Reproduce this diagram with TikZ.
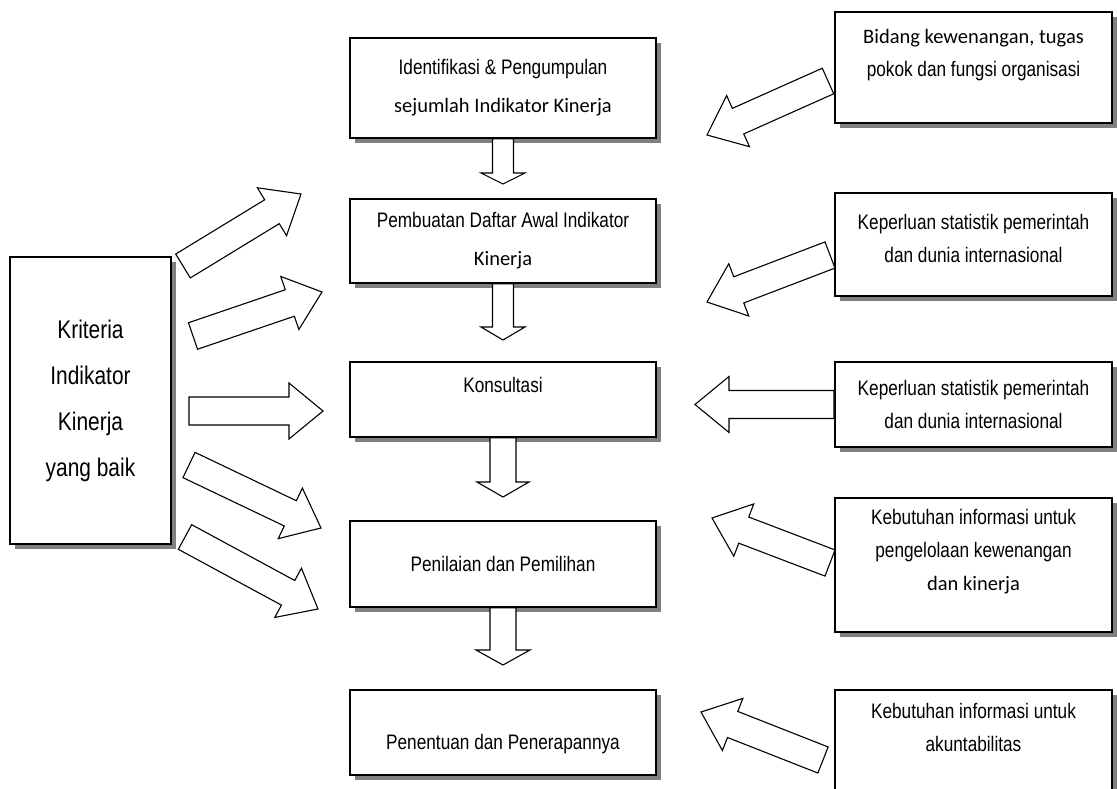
\documentclass[tikz,border=0pt]{standalone}
\usepackage{fontspec}
\setmainfont{Liberation Sans}[FakeStretch=0.82]
\newfontfamily\calibrifont{Carlito}
\usepackage{tikz}
\usetikzlibrary{calc,shadows}

% Calibri-looking line inside an Arial box
\newcommand{\calline}[1]{{\calibrifont\fontsize{20.5}{24}\selectfont #1}}

% hollow block arrow: tail, tip, half shaft, half head, head length
\newcommand{\blockarrow}[5]{%
  \draw[blk]
    ($(#1)!#3!90:(#2)$)
    -- ($(#2)!#5!(#1)!#3!-90:(#1)$)
    -- ($(#2)!#5!(#1)!#4!-90:(#1)$)
    -- (#2)
    -- ($(#2)!#5!(#1)!#4!90:(#1)$)
    -- ($(#2)!#5!(#1)!#3!90:(#1)$)
    -- ($(#1)!#3!-90:(#2)$)
    -- cycle;
}

\begin{document}
\begin{tikzpicture}[
    x=1pt, y=-1pt,
    box/.style={draw, fill=white, line width=1.5pt, align=center,
                inner sep=0pt,
                drop shadow={shadow xshift=5pt, shadow yshift=-5pt,
                             fill=black!50, opacity=1},
                font={\fontsize{21}{38}\selectfont}},
    midbox/.style={box, minimum width=306pt},
    sidebox/.style={box, minimum width=277pt,
                    font={\fontsize{21}{33}\selectfont}},
    blk/.style={draw, fill=white, line width=1.1pt, line join=miter},
  ]

  \useasboundingbox (0,0) rectangle (1117,789);

  % ══════════════════════════════════════════════
  % Layout — three columns
  %
  %   x=90   : criteria box (left)
  %   x=503  : process steps, top to bottom
  %   x=973  : inputs feeding the steps (right)
  % ══════════════════════════════════════════════

  % ── Centre column: process steps ──
  \node[midbox, minimum height=100pt] at (503, 88) (ident)
    {Identifikasi \& Pengumpulan\\\calline{sejumlah Indikator Kinerja}};
  \node[midbox, minimum height=84pt] at (503, 241) (daftar)
    {Pembuatan Daftar Awal Indikator\\\calline{Kinerja}};
  \node[midbox, minimum height=75pt, text height=13pt, text depth=27pt]
    at (503, 399.5) (konsultasi) {Konsultasi};
  \node[midbox, minimum height=86pt] at (503, 564) (penilaian)
    {Penilaian dan Pemilihan};
  \node[midbox, minimum height=85pt, text height=37pt, text depth=4pt]
    at (503, 732.5) (penentuan) {Penentuan dan Penerapannya};

  % ── Left column: criteria ──
  \node[box, minimum width=161pt, minimum height=287pt,
    font={\fontsize{25.5}{46}\selectfont}] at (90.5, 400.5) (kriteria)
    {Kriteria\\Indikator\\Kinerja\\yang baik};

  % ── Right column: inputs ──
  \node[sidebox, minimum height=111pt] at (973.5, 67.5) (bidang)
    {\calline{Bidang kewenangan, tugas}\\pokok dan fungsi organisasi\\[-4pt]};
  \node[sidebox, minimum height=103pt] at (973.5, 244.5) (statistik)
    {Keperluan statistik pemerintah\\dan dunia internasional\\[-20pt]};
  \node[sidebox, minimum height=85pt] at (973.5, 404.5) (statistikb)
    {Keperluan statistik pemerintah\\dan dunia internasional};
  \node[sidebox, minimum height=134pt] at (973.5, 565) (kelola)
    {Kebutuhan informasi untuk\\pengelolaan kewenangan\\\calline{dan kinerja}\\[-3pt]};
  \node[sidebox, minimum height=101pt] at (973.5, 740.5) (akuntabel)
    {Kebutuhan informasi untuk\\akuntabilitas\\[-6pt]};

  % ══════════════════════════════════════════════
  % Block arrows
  % ══════════════════════════════════════════════

  % ── Down the centre column ──
  \coordinate (d1) at (503, 184);
  \coordinate (d2) at (503, 340);
  \coordinate (d3) at (503, 497);
  \coordinate (d4) at (503, 665);
  \blockarrow{ident.south}{d1}{10.5pt}{22pt}{11pt}
  \blockarrow{daftar.south}{d2}{10.5pt}{22pt}{13pt}
  \blockarrow{konsultasi.south}{d3}{13pt}{26pt}{15pt}
  \blockarrow{penilaian.south}{d4}{13pt}{27pt}{15pt}

  % ── Criteria fanning out to the steps ──
  \coordinate (k1a) at (183, 266);  \coordinate (k1b) at (301, 194);
  \coordinate (k2a) at (193, 336);  \coordinate (k2b) at (322, 292);
  \coordinate (k3a) at (189, 411);  \coordinate (k3b) at (323, 411);
  \coordinate (k4a) at (189, 465);  \coordinate (k4b) at (321, 528);
  \coordinate (k5a) at (185, 537);  \coordinate (k5b) at (318, 609);
  \foreach \k in {1,...,5}
    {\blockarrow{k\k a}{k\k b}{14pt}{28pt}{34pt}}

  % ── Inputs pointing back into the steps ──
  \coordinate (r1a) at (828, 81);   \coordinate (r1b) at (707, 135);
  \coordinate (r2a) at (830, 255);  \coordinate (r2b) at (707, 302);
  \coordinate (r3a) at (834, 404.5);\coordinate (r3b) at (695, 404.5);
  \coordinate (r4a) at (830, 563);  \coordinate (r4b) at (712, 518);
  \coordinate (r5a) at (823, 760);  \coordinate (r5b) at (701, 712);
  \foreach \r in {1,...,5}
    {\blockarrow{r\r a}{r\r b}{14pt}{28pt}{34pt}}

\end{tikzpicture}
\end{document}
